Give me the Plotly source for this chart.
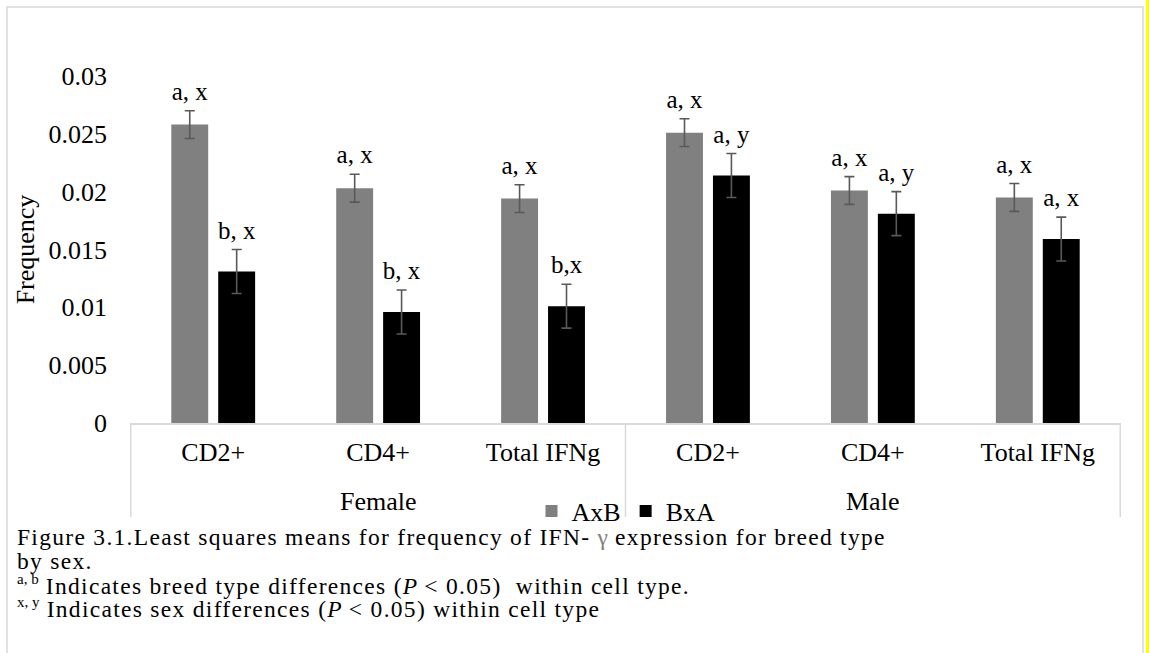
import plotly.graph_objects as go

# ---- data ----
sexes = ["Female", "Female", "Female", "Male", "Male", "Male"]
cells = ["CD2+", "CD4+", "Total IFNg", "CD2+", "CD4+", "Total IFNg"]
axb_vals = [0.0258, 0.0203, 0.0194, 0.0251, 0.0201, 0.0195]
axb_err = [0.0012, 0.0012, 0.0012, 0.0012, 0.0012, 0.0012]
bxa_vals = [0.0131, 0.0096, 0.0101, 0.0214, 0.0181, 0.0159]
bxa_err = [0.0019, 0.0019, 0.0019, 0.0019, 0.0019, 0.0019]
axb_labels = ["a, x", "a, x", "a, x", "a, x", "a, x", "a, x"]
bxa_labels = ["b, x", "b, x", "b,x", "a, y", "a, y", "a, x"]
y_ticks = [0, 0.005, 0.01, 0.015, 0.02, 0.025, 0.03]
y_ticktext = ["0", "0.005", "0.01", "0.015", "0.02", "0.025", "0.03"]

FONT = "Liberation Serif"
W, H = 1149, 653
L, R, T, B = 130, 28, 76, 230
PW, PH = W - L - R, H - T - B


def px_x(p):
    return (p - L) / PW


def px_y(p):
    return (T + PH - p) / PH


keys = [f"{s} {c}" for s, c in zip(sexes, cells)]

fig = go.Figure()
fig.add_trace(go.Bar(
    name="AxB", x=keys, y=axb_vals, offsetgroup="a",
    marker=dict(color="#808080", line=dict(width=0)),
    error_y=dict(type="data", array=axb_err, visible=True,
                 color="#595959", thickness=1.6, width=5),
))
fig.add_trace(go.Bar(
    name="BxA", x=keys, y=bxa_vals, offsetgroup="b",
    marker=dict(color="#000000", line=dict(width=0)),
    error_y=dict(type="data", array=bxa_err, visible=True,
                 color="#595959", thickness=1.6, width=5),
))
for vals, errs, labels, grp in [(axb_vals, axb_err, axb_labels, "a"),
                                (bxa_vals, bxa_err, bxa_labels, "b")]:
    fig.add_trace(go.Scatter(
        x=keys, y=[v + e for v, e in zip(vals, errs)], mode="markers+text",
        text=labels, textposition="top center", offsetgroup=grp,
        marker=dict(size=6, color="rgba(0,0,0,0)"),
        textfont=dict(family=FONT, size=25, color="black"),
        showlegend=False, cliponaxis=False, hoverinfo="skip",
    ))

annotations = []
shapes = []

# group labels (Female / Male) and dividers on the category scale
groups = []
for i, s in enumerate(sexes):
    if not groups or groups[-1][0] != s:
        groups.append([s, i, i])
    else:
        groups[-1][2] = i
for s, i0, i1 in groups:
    annotations.append(dict(
        text=s, xref="x", yref="paper", x=(i0 + i1) / 2, y=px_y(501),
        xanchor="center", yanchor="middle", showarrow=False,
        font=dict(family=FONT, size=26, color="black"),
    ))
edges = [groups[0][1] - 0.5] + [g[2] + 0.5 for g in groups]
for e in edges:
    shapes.append(dict(type="line", xref="x", yref="paper",
                       x0=e, x1=e, y0=0, y1=px_y(517),
                       line=dict(color="#d9d9d9", width=1.5)))

SP = "<span style='letter-spacing:1.3px'>{}</span>"
SUP = "<sup><span style='font-size:15px'>{}</span></sup>"
caption = [
    (SP.format("Figure 3.1.Least squares means for frequency of IFN- ")
     + "<span style='color:#7f7f7f'>γ</span>"
     + SP.format(" expression for breed type"), 537),
    (SP.format("by sex."), 561),
    (SUP.format("a, b") + SP.format(" Indicates breed type differences (")
     + "<i>P</i>" + SP.format(" &lt; 0.05)  within cell type."), 585),
    (SUP.format("x, y") + SP.format(" Indicates sex differences (")
     + "<i>P</i>" + SP.format(" &lt; 0.05) within cell type"), 608),
]
for txt, yy in caption:
    annotations.append(dict(
        text=txt, xref="paper", yref="paper", x=px_x(15), y=px_y(yy),
        xanchor="left", yanchor="middle", showarrow=False,
        font=dict(family=FONT, size=23.5, color="black"),
    ))

shapes += [
    dict(type="rect", xref="paper", yref="paper",
         x0=px_x(7), x1=px_x(1143), y0=px_y(7), y1=px_y(670),
         line=dict(color="#d9d9d9", width=1.5), layer="below"),
    dict(type="rect", xref="paper", yref="paper",
         x0=px_x(1146), x1=px_x(1150), y0=px_y(0), y1=px_y(653),
         line=dict(width=0), fillcolor="#ffff00"),
]

fig.update_layout(
    width=W, height=H,
    margin=dict(l=L, r=R, t=T, b=B),
    paper_bgcolor="white", plot_bgcolor="white",
    barmode="group", bargap=0.431, bargroupgap=0.213,
    scattermode="group",
    font=dict(family=FONT, size=26, color="black"),
    legend=dict(orientation="h", x=px_x(626), xanchor="center",
                y=px_y(511), yanchor="middle", bgcolor="rgba(0,0,0,0)",
                font=dict(family=FONT, size=26, color="black"), itemwidth=30,
                traceorder="normal"),
    annotations=annotations,
    shapes=shapes,
)
fig.update_xaxes(
    type="category", categoryorder="array", categoryarray=keys,
    tickvals=keys, ticktext=cells,
    showline=True, linecolor="#d9d9d9", linewidth=1.5,
    showgrid=False, ticks="", ticklabelstandoff=5,
    tickfont=dict(family=FONT, size=26, color="black"), automargin=False,
)
fig.update_yaxes(
    range=[0, 0.03], tickvals=y_ticks, ticktext=y_ticktext,
    showgrid=False, zeroline=False, showline=False, ticks="",
    ticklabelstandoff=22,
    tickfont=dict(family=FONT, size=26, color="black"),
    title=dict(text="Frequency", font=dict(family=FONT, size=26, color="black"), standoff=6),
    automargin=False,
)

fig.write_html(
    "out.html",
    config={"displayModeBar": False},
    post_script="document.body.style.margin='0px';document.body.style.overflow='hidden';",
)
